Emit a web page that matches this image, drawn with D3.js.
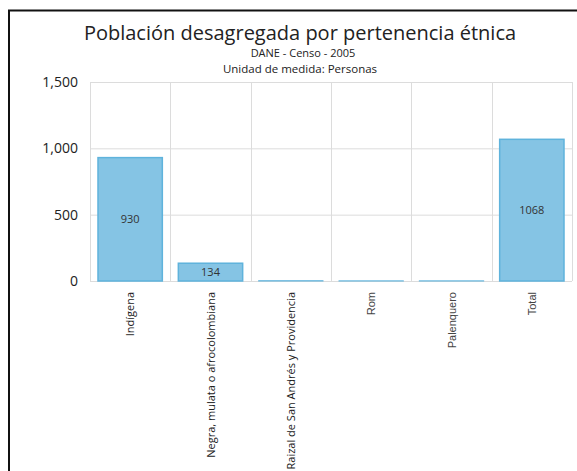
<!DOCTYPE html>
<html>
<head>
<meta charset="utf-8">
<script src="https://cdn.jsdelivr.net/npm/d3@7"></script>
<style>
  body { margin: 0; background: #fff; }
  svg { display: block; }
</style>
</head>
<body>
<div class="chart"></div>
<script>
const categories = ['Indígena', 'Negra, mulata o afrocolombiana', 'Raizal de San Andrés y Providencia', 'Rom', 'Palenquero', 'Total'];
const personas = [930, 134, 2, 1, 1, 1068];
const yTicks = [0, 500, 1000, 1500];

const dims = { width: 577, height: 471 };
const plot = { left: 90, right: 572, top: 82, bottom: 281 };

const svg = d3.select('.chart')
    .append('svg')
    .attr('width', dims.width)
    .attr('height', dims.height);

// frame (only top and left edges show)
svg.append('path')
    .attr('d', `M9,${dims.height} V10.5 H${dims.width}`)
    .attr('fill', 'none')
    .attr('stroke', '#111')
    .attr('stroke-width', 2);

const x = d3.scaleBand()
    .domain(categories)
    .range([plot.left, plot.right])
    .padding(0);

const y = d3.scaleLinear()
    .domain([0, 1500])
    .range([plot.bottom, plot.top]);

const font = '"Open Sans", "Noto Sans", sans-serif';

// titles
svg.append('text')
    .attr('x', 300).attr('y', 40)
    .attr('text-anchor', 'middle')
    .attr('font-family', font)
    .attr('font-size', 20)
    .attr('fill', '#222')
    .text('Población desagregada por pertenencia étnica');
svg.append('text')
    .attr('x', 303).attr('y', 57)
    .attr('text-anchor', 'middle')
    .attr('font-family', font)
    .attr('font-size', 11)
    .attr('fill', '#222')
    .text('DANE - Censo - 2005');
svg.append('text')
    .attr('x', 300).attr('y', 73)
    .attr('text-anchor', 'middle')
    .attr('font-family', font)
    .attr('font-size', 11.5)
    .attr('fill', '#222')
    .text('Unidad de medida: Personas');

// horizontal grid
const grid = svg.append('g');
grid.selectAll('line.h')
    .data(yTicks)
    .enter().append('line')
    .attr('class', 'h')
    .attr('x1', plot.left).attr('x2', plot.right)
    .attr('y1', d => y(d) + 0.5).attr('y2', d => y(d) + 0.5)
    .attr('stroke', '#dcdcdc');

// vertical grid at band edges
const edges = categories.map(c => x(c)).concat([plot.right]);
grid.selectAll('line.v')
    .data(edges)
    .enter().append('line')
    .attr('class', 'v')
    .attr('x1', d => Math.round(d) + 0.5).attr('x2', d => Math.round(d) + 0.5)
    .attr('y1', plot.top).attr('y2', plot.bottom)
    .attr('stroke', '#dcdcdc');

// y axis labels
const yAxis = d3.axisLeft(y)
    .tickValues(yTicks)
    .tickFormat(d3.format(','))
    .tickSize(0)
    .tickPadding(12);
const yG = svg.append('g')
    .attr('transform', `translate(${plot.left}, 0)`)
    .call(yAxis);
yG.select('.domain').remove();
yG.selectAll('text')
    .attr('font-family', font)
    .attr('font-size', 14)
    .attr('fill', '#222');

// bars
const inset = 8;
const data = categories.map((c, i) => ({ cat: c, value: personas[i] }));

svg.append('g').selectAll('rect')
    .data(data)
    .enter().append('rect')
    .attr('x', d => x(d.cat) + inset)
    .attr('y', d => y(d.value))
    .attr('width', x.bandwidth() - inset * 2)
    .attr('height', d => plot.bottom - y(d.value))
    .attr('fill', '#85c4e4')
    .attr('stroke', '#5fb3dc')
    .attr('stroke-width', d => plot.bottom - y(d.value) > 3 ? 1.5 : 1);

// value labels, only where the bar is tall enough
svg.append('g').selectAll('text')
    .data(data.filter(d => plot.bottom - y(d.value) > 12))
    .enter().append('text')
    .attr('x', d => x(d.cat) + x.bandwidth() / 2)
    .attr('y', d => (y(d.value) + plot.bottom) / 2 + 4)
    .attr('text-anchor', 'middle')
    .attr('font-family', font)
    .attr('font-size', 11)
    .attr('fill', '#333')
    .text(d => d.value);

// x axis labels (rotated)
const xAxis = d3.axisBottom(x).tickSize(0).tickPadding(0);
const xG = svg.append('g')
    .attr('transform', `translate(0, ${plot.bottom})`)
    .call(xAxis);
xG.select('.domain').remove();
xG.selectAll('text')
    .attr('font-family', (d, i) => i < 3 ? font : '"Liberation Sans", Arial, sans-serif')
    .attr('font-size', 11)
    .attr('fill', (d, i) => i < 3 ? '#222' : '#444')
    .attr('text-anchor', 'end')
    .attr('dy', null)
    .attr('y', 0)
    .attr('transform', 'translate(4, 11) rotate(-90)');
</script>
</body>
</html>
